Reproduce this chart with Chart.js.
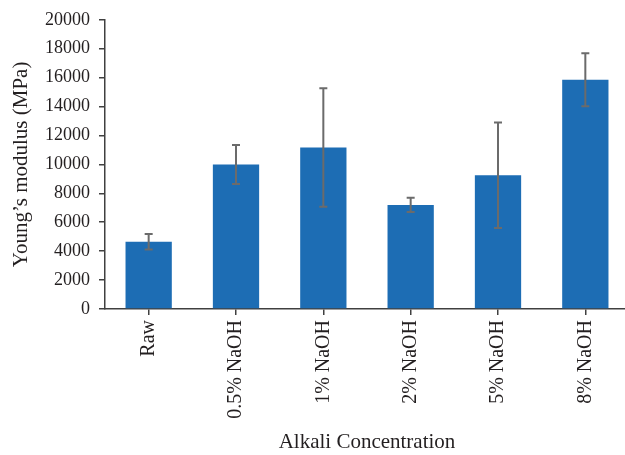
<!DOCTYPE html>
<html>
<head>
<meta charset="utf-8">
<script src="https://cdn.jsdelivr.net/npm/chart.js@4/dist/chart.umd.min.js"></script>
<style>
  html, body { margin: 0; padding: 0; background: #fff; overflow: hidden; }
  #wrap { width: 625px; height: 455px; overflow: hidden; position: relative; }
  #box { width: 631px; height: 455px; position: absolute; left: 0; top: 0; }
</style>
</head>
<body>
<div id="wrap"><div id="box"><canvas id="c"></canvas></div></div>
<script>
// Young's modulus of fibres after alkali treatment (mean ± standard deviation)
const categories = ['Raw', '0.5% NaOH', '1% NaOH', '2% NaOH', '5% NaOH', '8% NaOH'];
const modulusMean = [4650, 10000, 11170, 7200, 9250, 15850];
const modulusSD = [540, 1350, 4100, 500, 3650, 1830];
const yTicks = [0, 2000, 4000, 6000, 8000, 10000, 12000, 14000, 16000, 18000, 20000];

const SERIF = '"Liberation Serif", "Times New Roman", serif';

// Draws the standard-deviation whiskers on top of each bar
const errorBars = {
  id: 'errorBars',
  afterDatasetsDraw(chart) {
    const ctx = chart.ctx;
    const y = chart.scales.y;
    const meta = chart.getDatasetMeta(0);
    ctx.save();
    ctx.strokeStyle = '#6b6b6b';
    ctx.lineWidth = 2;
    meta.data.forEach((bar, i) => {
      const x = bar.x;
      const yHi = y.getPixelForValue(modulusMean[i] + modulusSD[i]);
      const yLo = y.getPixelForValue(modulusMean[i] - modulusSD[i]);
      const cap = 4;
      ctx.beginPath();
      ctx.moveTo(x, yHi); ctx.lineTo(x, yLo);
      ctx.moveTo(x - cap, yHi); ctx.lineTo(x + cap, yHi);
      ctx.moveTo(x - cap, yLo); ctx.lineTo(x + cap, yLo);
      ctx.stroke();
    });
    ctx.restore();
  }
};

new Chart(document.getElementById('c'), {
  type: 'bar',
  data: {
    labels: categories,
    datasets: [{
      data: modulusMean,
      backgroundColor: '#1d6db4',
      borderWidth: 0,
      categoryPercentage: 1,
      barPercentage: 0.53
    }]
  },
  options: {
    responsive: true,
    maintainAspectRatio: false,
    animation: false,
    events: [],
    layout: { padding: { top: 17, right: 2, left: 0, bottom: 0 } },
    plugins: { legend: { display: false }, tooltip: { enabled: false } },
    scales: {
      x: {
        grid: { display: true, offset: false, drawOnChartArea: false, drawTicks: true, tickLength: 6, color: '#404040', lineWidth: 1.5 },
        border: { display: true, color: '#404040', width: 1.5 },
        ticks: {
          color: '#231f20',
          font: { family: SERIF, size: 20 },
          minRotation: 90,
          maxRotation: 90,
          padding: 5,
          autoSkip: false
        },
        title: {
          display: true,
          text: 'Alkali Concentration',
          color: '#231f20',
          font: { family: SERIF, size: 21 },
          padding: { top: 4, bottom: 0 }
        },
        afterFit(scale) { scale.height = 146; }
      },
      y: {
        min: 0,
        max: 20000,
        afterBuildTicks(scale) { scale.ticks = yTicks.map(v => ({ value: v })); },
        grid: { display: true, drawOnChartArea: false, drawTicks: true, tickLength: 6, color: '#404040', lineWidth: 1.5 },
        border: { display: true, color: '#404040', width: 1.5 },
        ticks: {
          color: '#231f20',
          font: { family: SERIF, size: 18 },
          padding: 9,
          callback: (v) => String(v)
        },
        title: {
          display: true,
          text: 'Young’s modulus (MPa)',
          color: '#231f20',
          font: { family: SERIF, size: 21 },
          padding: { top: 9, bottom: 0 }
        },
        afterFit(scale) { scale.width = 105; }
      }
    }
  },
  plugins: [errorBars]
});
</script>
</body>
</html>
